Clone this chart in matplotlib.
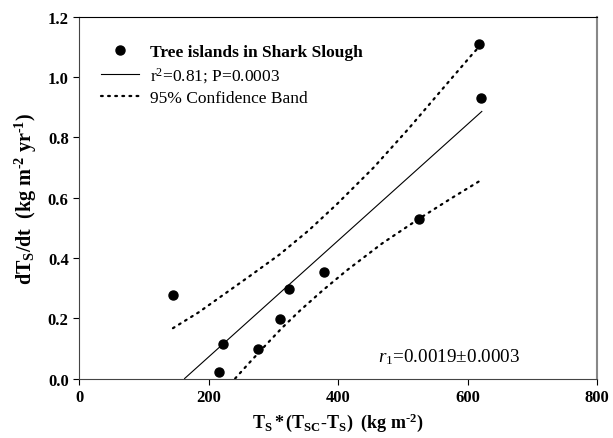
import matplotlib.pyplot as plt
import numpy as np

plt.rcParams['font.family'] = ['Liberation Serif', 'DejaVu Serif']
plt.rcParams['mathtext.fontset'] = 'custom'
plt.rcParams['mathtext.rm'] = 'Liberation Serif'
plt.rcParams['mathtext.it'] = 'Liberation Serif:italic'
plt.rcParams['mathtext.bf'] = 'Liberation Serif:bold'

# data
x_pts = [145, 216, 222, 277, 310, 324, 378, 525, 618, 621]
y_pts = [0.277, 0.022, 0.116, 0.097, 0.196, 0.297, 0.352, 0.530, 1.111, 0.931]

fit_x = [163, 622]
fit_y = [0.0, 0.886]

upper_x = [145, 185, 223, 265, 310, 355, 398, 455, 509, 567, 609, 620]
upper_y = [0.167, 0.220, 0.278, 0.342, 0.412, 0.492, 0.578, 0.700, 0.829, 0.975, 1.080, 1.105]

lower_x = [241, 262, 287, 313, 341, 375, 413, 468, 525, 575, 620]
lower_y = [0.0, 0.050, 0.108, 0.167, 0.225, 0.290, 0.358, 0.448, 0.530, 0.598, 0.657]

fig = plt.figure(figsize=(6.13, 4.39), dpi=100)
ax = fig.add_axes([0.129, 0.1355, 0.845, 0.824])

ax.plot(x_pts, y_pts, 'o', color='black', markersize=6.5, label='Tree islands in Shark Slough')
ax.plot(fit_x, fit_y, '-', color='black', lw=0.8, label=r'r$^2$=0.81; P=0.0003')
ax.plot(upper_x, upper_y, color='black', lw=1.6, linestyle=(0, (0.8, 2.4)),
        dash_capstyle='round', label='95% Confidence Band')
ax.plot(lower_x, lower_y, color='black', lw=1.6, linestyle=(0, (0.8, 2.4)),
        dash_capstyle='round')

ax.set_xlim(0, 800)
ax.set_ylim(0, 1.2)
ax.set_xticks([0, 200, 400, 600, 800])
ax.set_yticks([0.0, 0.2, 0.4, 0.6, 0.8, 1.0, 1.2])
ax.set_yticklabels(['0.0', '0.2', '0.4', '0.6', '0.8', '1.0', '1.2'])
ax.tick_params(direction='out', length=4, width=0.8, labelsize=12, top=False, right=False)
for lab in ax.get_xticklabels() + ax.get_yticklabels():
    lab.set_fontweight('bold')

ax.spines['left'].set_color('#444444')
ax.spines['bottom'].set_color('#444444')
ax.spines['right'].set_color('#888888')
ax.spines['right'].set_linewidth(1.5)

ax.set_xlabel(r'$\mathbf{T_S*(T_{SC}\text{-}T_S)\ \ (kg\ m^{\text{-}2})}$', fontsize=13, labelpad=4)
ax.set_ylabel(r'$\mathbf{dT_S/dt\ \ (kg\ m^{\text{-}2}\ yr^{\text{-}1})}$', fontsize=14.5, labelpad=6)

ax.text(0.851, 0.062, r'$\mathit{r}_1$=0.0019$\pm$0.0003', transform=ax.transAxes,
        ha='right', va='center', fontsize=13.8)

leg = ax.legend(loc='upper left', bbox_to_anchor=(0.029, 0.945), frameon=False,
                fontsize=12.5, handlelength=2.2, handletextpad=0.6, labelspacing=0.3,
                borderaxespad=0)
leg.get_texts()[0].set_fontweight('bold')

plt.savefig('out.png', dpi=100)
